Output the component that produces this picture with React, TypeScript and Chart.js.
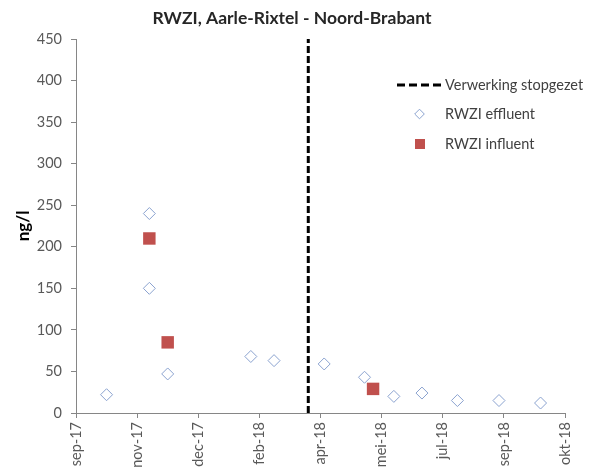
import React, { useEffect, useRef } from "react";
import { Chart, registerables } from "chart.js";

Chart.register(...registerables);

// ---- data ----
const chartTitle = "RWZI, Aarle-Rixtel - Noord-Brabant";
const yAxisTitle = "ng/l";
const monthNames = ["jan", "feb", "mrt", "apr", "mei", "jun", "jul", "aug", "sep", "okt", "nov", "dec"];

const axisStartDate = "2017-09-22";
const axisEndDate = "2018-10-27";
const axisStepDays = 50;

const yMin = 0;
const yMax = 450;
const yStep = 50;

const stopLabel = "Verwerking stopgezet";
const stopDate = "2018-03-31";

const effluentLabel = "RWZI effluent";
const effluentDates = [
  "2017-10-17", "2017-11-21", "2017-11-21", "2017-12-06", "2018-02-12", "2018-03-03",
  "2018-04-13", "2018-05-16", "2018-06-09", "2018-07-02", "2018-07-31", "2018-09-03", "2018-10-07",
];
const effluentValues = [22, 240, 150, 47, 68, 63, 59, 43, 20, 24, 15, 15, 12];

const influentLabel = "RWZI influent";
const influentDates = ["2017-11-21", "2017-12-06", "2018-05-23"];
const influentValues = [210, 85, 29];

// ---- helpers ----
const EPOCH = Date.UTC(1899, 11, 30);
const toSerial = (iso: string) => Math.round((Date.parse(iso + "T00:00:00Z") - EPOCH) / 86400000);
const fmtSerial = (v: number) => {
  const d = new Date(EPOCH + v * 86400000);
  return `${monthNames[d.getUTCMonth()]}-${String(d.getUTCFullYear()).slice(2)}`;
};

const FONT = "Lato";
const AXIS_COLOR = "#868686";
const TICK_COLOR = "#595959";
const EFF_COLOR = "#8AA2CF";
const INF_COLOR = "#C0504D";

const insideLegend = {
  id: "insideLegend",
  afterDraw(chart: any) {
    const ctx = chart.ctx as CanvasRenderingContext2D;
    const ds = chart.data.datasets;
    ctx.save();
    ctx.font = `14.5px ${FONT}`;
    ctx.fillStyle = "#404040";
    ctx.textBaseline = "middle";
    ctx.textAlign = "left";
    const textX = 445;
    // dashed line sample
    ctx.save();
    ctx.strokeStyle = "#000";
    ctx.lineWidth = 3;
    ctx.setLineDash([8, 4]);
    ctx.beginPath();
    ctx.moveTo(397, 85);
    ctx.lineTo(444, 85);
    ctx.stroke();
    ctx.restore();
    ctx.fillText(ds[0].label, textX, 85);
    // diamond sample
    ctx.save();
    ctx.strokeStyle = EFF_COLOR;
    ctx.fillStyle = "#fff";
    ctx.lineWidth = 1;
    ctx.beginPath();
    const cx = 419.5, cy = 114, r = 4.8;
    ctx.moveTo(cx, cy - r);
    ctx.lineTo(cx + r, cy);
    ctx.lineTo(cx, cy + r);
    ctx.lineTo(cx - r, cy);
    ctx.closePath();
    ctx.fill();
    ctx.stroke();
    ctx.restore();
    ctx.fillText(ds[1].label, textX, 114);
    // square sample
    ctx.save();
    ctx.fillStyle = INF_COLOR;
    ctx.fillRect(415, 139, 10, 10);
    ctx.restore();
    ctx.fillText(ds[2].label, textX, 144);
    ctx.restore();
  },
};

export default function App() {
  const ref = useRef<HTMLCanvasElement | null>(null);

  useEffect(() => {
    if (!ref.current) return;
    const stopX = toSerial(stopDate);
    const chart = new Chart(ref.current, {
      type: "scatter",
      data: {
        datasets: [
          {
            label: stopLabel,
            data: [
              { x: stopX, y: yMin },
              { x: stopX, y: yMax },
            ],
            showLine: true,
            borderColor: "#000",
            borderWidth: 3,
            borderDash: [7, 3],
            pointRadius: 0,
            pointHoverRadius: 0,
          },
          {
            label: effluentLabel,
            data: effluentDates.map((d, i) => ({ x: toSerial(d), y: effluentValues[i] })),
            pointStyle: "rectRot",
            pointRadius: 6,
            pointBorderWidth: 1,
            borderColor: EFF_COLOR,
            backgroundColor: "#fff",
          },
          {
            label: influentLabel,
            data: influentDates.map((d, i) => ({ x: toSerial(d), y: influentValues[i] })),
            pointStyle: "rect",
            pointRadius: 8.8,
            pointBorderWidth: 0,
            borderColor: INF_COLOR,
            backgroundColor: INF_COLOR,
          },
        ],
      },
      options: {
        responsive: false,
        animation: false,
        devicePixelRatio: 1,
        layout: { padding: { left: 19, right: 36, top: 0, bottom: 0 } },
        plugins: {
          legend: { display: false },
          tooltip: { enabled: false },
          title: {
            display: true,
            text: chartTitle,
            color: "#262626",
            font: { family: FONT, size: 17.5, weight: "bold" },
            padding: { top: 7.5, bottom: 10.5 },
          },
        },
        scales: {
          x: {
            type: "linear",
            min: toSerial(axisStartDate),
            max: toSerial(axisEndDate),
            afterFit: (s: any) => {
              s.height = 59;
            },
            afterBuildTicks: (s: any) => {
              const t = [];
              for (let v = toSerial(axisStartDate); v <= toSerial(axisEndDate); v += axisStepDays) t.push({ value: v });
              s.ticks = t;
            },
            ticks: {
              minRotation: 90,
              maxRotation: 90,
              autoSkip: false,
              padding: 4,
              color: TICK_COLOR,
              font: { family: FONT, size: 14.5 },
              callback: (v: any) => fmtSerial(Number(v)),
            },
            grid: {
              display: true,
              drawOnChartArea: false,
              drawTicks: true,
              tickLength: 5,
              color: AXIS_COLOR,
            },
            border: { display: true, color: AXIS_COLOR },
          },
          y: {
            type: "linear",
            min: yMin,
            max: yMax,
            afterFit: (s: any) => {
              s.width = 57;
            },
            ticks: {
              stepSize: yStep,
              padding: 9,
              color: TICK_COLOR,
              font: { family: FONT, size: 14.5 },
            },
            grid: {
              display: true,
              drawOnChartArea: false,
              drawTicks: true,
              tickLength: 5,
              color: AXIS_COLOR,
            },
            border: { display: true, color: AXIS_COLOR },
            title: {
              display: true,
              text: yAxisTitle,
              color: "#000",
              font: { family: FONT, size: 17, weight: "bold", lineHeight: 0.5 },
              padding: { top: 0.25, bottom: 0 },
            },
          },
        },
      },
      plugins: [insideLegend],
    });
    return () => chart.destroy();
  }, []);

  return (
    <div style={{ position: "fixed", left: 0, top: 0, width: 601, height: 472, background: "#fff" }}>
      <canvas ref={ref} width={601} height={472} />
    </div>
  );
}
